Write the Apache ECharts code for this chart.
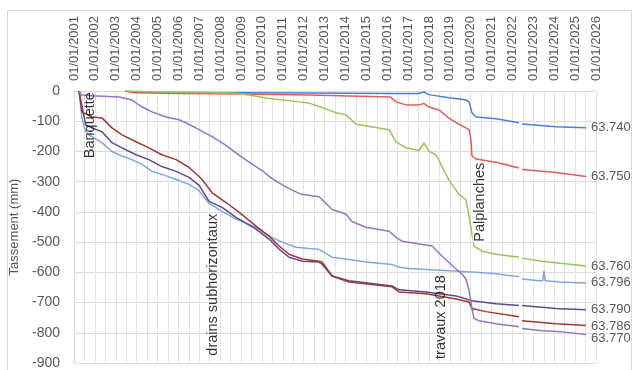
<!DOCTYPE html>
<html>
<head>
<meta charset="utf-8">
<script src="https://cdn.jsdelivr.net/npm/echarts@6/dist/echarts.min.js"></script>
<style>
  html, body { margin: 0; padding: 0; background: #fff; }
  #chart { width: 633px; height: 370px; }
</style>
</head>
<body>
<div id="chart"></div>
<script>
// Benchmark names (end labels)
const benchmarks = ['63.740', '63.750', '63.760', '63.796', '63.790', '63.786', '63.770'];

// Settlement readings per benchmark: [decimal year, settlement in mm]; '-' marks a break in the record
const s63740 = [[2003.45,0],[2003.9,-4],[2006,-5],[2009,-6],[2012.25,-7],[2016.2,-8],[2017.5,-8],[2017.76,-3],[2018.0,-12],[2018.96,-22],[2019.75,-29],[2019.92,-36],[2020.06,-72],[2020.25,-86],[2021.21,-92],[2022.31,-105],[2022.38,'-'],[2022.46,-109],[2024.08,-118],[2025.52,-122]];
const s63750 = [[2003.45,0],[2003.9,-6],[2006,-8],[2009,-10],[2012.25,-13],[2016.15,-20],[2016.42,-36],[2016.9,-46],[2017.52,-46],[2017.76,-41],[2018.0,-53],[2018.48,-63],[2018.96,-90],[2019.3,-105],[2019.77,-122],[2019.92,-128],[2020.01,-161],[2020.06,-215],[2020.25,-225],[2021.21,-236],[2022.31,-255],[2022.38,'-'],[2022.46,-260],[2024.08,-270],[2025.52,-283]];
const s63760 = [[2003.45,0],[2005,-3],[2007,-5],[2008.57,-7],[2009.38,-13],[2010.2,-23],[2011.78,-36],[2012.25,-40],[2012.73,-51],[2013.55,-72],[2014.03,-79],[2014.51,-110],[2016.09,-128],[2016.42,-168],[2016.9,-188],[2017.52,-197],[2017.76,-172],[2018.0,-200],[2018.34,-211],[2018.96,-295],[2019.44,-342],[2019.77,-359],[2019.92,-415],[2020.16,-513],[2020.54,-530],[2021.21,-540],[2022.31,-550],[2022.38,'-'],[2022.46,-553],[2023.41,-563],[2025.52,-579]];
const s63796 = [[2001.24,0],[2001.38,-89],[2001.56,-134],[2001.72,-145],[2001.96,-155],[2002.34,-171],[2002.82,-200],[2003.3,-215],[2003.78,-227],[2004.26,-243],[2004.74,-266],[2005.21,-276],[2005.89,-293],[2006.51,-309],[2006.99,-330],[2007.47,-372],[2008.09,-398],[2008.76,-424],[2009.72,-451],[2010.34,-480],[2010.96,-500],[2011.63,-517],[2012.25,-521],[2012.73,-524],[2013.36,-550],[2014.03,-556],[2014.98,-566],[2016.23,-574],[2016.57,-583],[2017.04,-587],[2018.96,-595],[2020.25,-600],[2021.21,-605],[2022.31,-615],[2022.38,'-'],[2022.46,-622],[2023.27,-628],[2023.45,-628],[2023.51,-595],[2023.57,-628],[2024.23,-632],[2025.52,-635]];
const s63790 = [[2001.24,0],[2001.56,-112],[2001.86,-122],[2002.34,-135],[2002.82,-171],[2003.3,-188],[2003.97,-211],[2004.59,-227],[2005.21,-250],[2005.89,-266],[2006.51,-286],[2006.99,-312],[2007.47,-365],[2008.09,-385],[2008.76,-418],[2009.72,-457],[2010.34,-490],[2010.82,-523],[2011.3,-550],[2011.92,-563],[2012.73,-566],[2012.88,-573],[2013.36,-612],[2014.17,-628],[2016.23,-645],[2016.57,-658],[2017.86,-665],[2019.3,-678],[2020.06,-694],[2021.21,-704],[2022.31,-710],[2022.38,'-'],[2022.46,-710],[2024.08,-720],[2025.52,-724]];
const s63786 = [[2001.24,0],[2001.38,-69],[2001.86,-86],[2002.34,-89],[2002.82,-122],[2003.3,-145],[2003.97,-168],[2004.59,-188],[2005.21,-211],[2005.89,-227],[2006.51,-253],[2006.99,-283],[2007.13,-293],[2007.61,-336],[2008.28,-369],[2008.9,-401],[2009.72,-447],[2010.34,-480],[2010.82,-513],[2011.3,-540],[2011.92,-556],[2012.73,-563],[2012.88,-566],[2013.36,-612],[2014.17,-632],[2016.23,-648],[2016.57,-665],[2017.86,-671],[2019.3,-688],[2019.92,-698],[2020.06,-720],[2020.73,-730],[2022.31,-747],[2022.38,'-'],[2022.46,-760],[2024.08,-770],[2025.52,-776]];
const s63770 = [[2001.24,0],[2001.35,-13],[2001.86,-16],[2003.16,-20],[2003.78,-30],[2004.26,-53],[2004.74,-69],[2005.41,-86],[2006.03,-95],[2006.36,-105],[2006.99,-128],[2007.61,-151],[2008.28,-180],[2008.9,-212],[2009.6,-245],[2010.1,-268],[2010.48,-290],[2010.96,-310],[2011.44,-328],[2011.9,-342],[2012.73,-350],[2012.88,-359],[2013.36,-392],[2014.03,-408],[2014.31,-432],[2014.98,-451],[2016.09,-464],[2016.42,-484],[2016.71,-497],[2018.15,-513],[2018.62,-546],[2019.3,-589],[2019.58,-605],[2019.77,-622],[2019.92,-660],[2020.06,-720],[2020.16,-753],[2020.4,-760],[2021.21,-770],[2022.31,-780],[2022.38,'-'],[2022.46,-786],[2023.41,-793],[2024.37,-797],[2025.52,-806]];

const seriesData = [s63740, s63750, s63760, s63796, s63790, s63786, s63770];
const seriesColors = ['#4a7fd0', '#e05c5c', '#9bc25a', '#7fa8e3', '#5c4a8a', '#9b3a36', '#9474c7'];
// Small vertical nudges so the two bottom end labels do not collide
const endLabelNudge = [0, 0, 0, 0, 0, 1, 4];

// Works annotations: text, year and settlement level of the text centre
const noteText = ['Banquette', 'drains subhorizontaux', 'travaux 2018', 'Palplanches'];
const noteYear = [2001.77, 2007.66, 2018.58, 2020.45];
const noteMm = [-113, -641, -748, -368];
const noteFilled = [false, false, false, true];

// Axis ranges
const yearMin = 2001, yearMax = 2026;
const mmMin = -900, mmMax = 0, mmStep = 100;

const FONT = '"Liberation Sans", Arial, sans-serif';
const GREY = '#595959';

const chart = echarts.init(document.getElementById('chart'), null, { renderer: 'canvas' });

const lineSeries = benchmarks.map((name, i) => ({
  name: name,
  type: 'line',
  data: seriesData[i],
  showSymbol: false,
  connectNulls: false,
  smooth: false,
  lineStyle: { color: seriesColors[i], width: 1.5 },
  itemStyle: { color: seriesColors[i] },
  emphasis: { disabled: true },
  endLabel: {
    show: true,
    formatter: name,
    color: GREY,
    fontFamily: FONT,
    fontSize: 13,
    distance: 5,
    offset: [0, endLabelNudge[i]]
  },
  z: 2
}));

const noteSeries = {
  type: 'scatter',
  symbolSize: 0,
  silent: true,
  z: 5,
  data: noteText.map((t, i) => ({
    value: [noteYear[i], noteMm[i]],
    label: {
      show: true,
      formatter: t,
      position: 'inside',
      rotate: 90,
      color: '#000',
      fontFamily: FONT,
      fontSize: 14.5,
      backgroundColor: noteFilled[i] ? '#fff' : 'transparent',
      padding: noteFilled[i] ? [0, 1] : 0
    }
  }))
};

chart.setOption({
  animation: false,
  backgroundColor: '#fff',
  grid: { left: 74, right: 37, top: 91, bottom: 6, containLabel: false },
  xAxis: {
    type: 'value',
    position: 'top',
    min: yearMin,
    max: yearMax,
    interval: 1,
    axisLine: { show: true, onZero: false, lineStyle: { color: '#d9d9d9' } },
    axisTick: { show: false },
    minorTick: { show: false, splitNumber: 2 },
    splitLine: { show: true, lineStyle: { color: '#e3e3e3', width: 1 } },
    minorSplitLine: { show: true, lineStyle: { color: '#e3e3e3', width: 1 } },
    axisLabel: {
      rotate: -90,
      margin: 10,
      color: GREY,
      fontFamily: FONT,
      fontSize: 13,
      formatter: v => '01/01/' + v
    }
  },
  yAxis: {
    type: 'value',
    min: mmMin,
    max: mmMax,
    interval: mmStep,
    name: 'Tassement (mm)',
    nameLocation: 'middle',
    nameRotate: 90,
    nameGap: 47,
    nameTextStyle: { color: GREY, fontFamily: FONT, fontSize: 13 },
    axisLine: { show: true, lineStyle: { color: '#d9d9d9' } },
    axisTick: { show: false },
    splitLine: { show: true, lineStyle: { color: '#dcdcdc', width: 1 } },
    axisLabel: { color: GREY, fontFamily: FONT, fontSize: 14, margin: 14 }
  },
  graphic: [{
    type: 'rect',
    shape: { x: 7.5, y: 10.5, width: 624, height: 370 },
    style: { fill: 'none', stroke: '#d9d9d9', lineWidth: 1 },
    silent: true,
    z: -1
  }],
  series: lineSeries.concat([noteSeries])
});
</script>
</body>
</html>
